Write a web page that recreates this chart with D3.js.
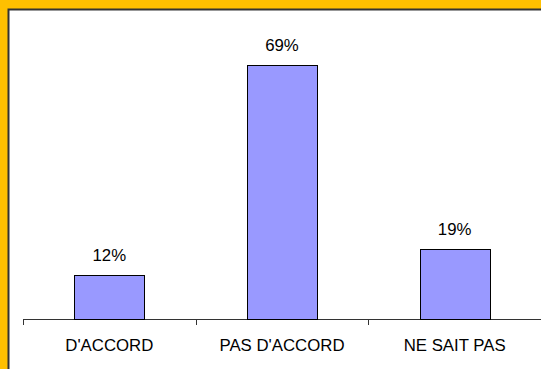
<!DOCTYPE html>
<meta charset="utf-8">
<script src="https://d3js.org/d3.v7.min.js"></script>
<style>
  body { margin: 0; background: #FFC000; }
  svg { display: block; }
</style>
<div id="chart"></div>
<script>
var categories = ["D'ACCORD", "PAS D'ACCORD", "NE SAIT PAS"];
var values = [12, 69, 19];
var valueLabels = ["12%", "69%", "19%"];

var W = 541, H = 369;
var svg = d3.select("#chart").append("svg")
  .attr("width", W).attr("height", H);

// white panel with dark border on top/left
svg.append("rect").attr("x", 0).attr("y", 0).attr("width", W).attr("height", H).attr("fill", "#FFC000");
svg.append("rect").attr("x", 9).attr("y", 10).attr("width", W - 9).attr("height", H - 10).attr("fill", "#fff");
svg.append("path")
  .attr("d", "M8.5," + H + "V9.5H" + W)
  .attr("fill", "none").attr("stroke", "#333").attr("stroke-width", 2);

var x = d3.scaleBand().domain(categories).range([23, 541]).paddingInner(0).paddingOuter(0);
var y = d3.scaleLinear().domain([0, 80]).range([319, 25]);

var barW = 70;
var font = "Liberation Sans, Arial, sans-serif";

// axis
var axis = svg.append("g").attr("font-family", font);
axis.append("line")
  .attr("x1", 23).attr("x2", W).attr("y1", 319.5).attr("y2", 319.5)
  .attr("stroke", "#333").attr("stroke-width", 1);
axis.selectAll("line.tick")
  .data(d3.range(categories.length + 1))
  .enter().append("line")
  .attr("class", "tick")
  .attr("x1", function(i) { return Math.round(23 + i * x.bandwidth()) + 0.5; })
  .attr("x2", function(i) { return Math.round(23 + i * x.bandwidth()) + 0.5; })
  .attr("y1", 319).attr("y2", 325)
  .attr("stroke", "#333");

axis.selectAll("text.cat")
  .data(categories)
  .enter().append("text")
  .attr("class", "cat")
  .attr("x", function(d) { return x(d) + x.bandwidth() / 2; })
  .attr("y", 351)
  .attr("text-anchor", "middle")
  .attr("font-size", 16.8)
  .attr("fill", "#000")
  .text(function(d) { return d; });

// bars
svg.selectAll("rect.bar")
  .data(values)
  .enter().append("rect")
  .attr("class", "bar")
  .attr("x", function(d, i) { return Math.round(x(categories[i]) + x.bandwidth() / 2 - barW / 2) + 0.5; })
  .attr("y", function(d) { return Math.round(y(d)) + 0.5; })
  .attr("width", barW)
  .attr("height", function(d) { return 319 - Math.round(y(d)); })
  .attr("fill", "#9999FF")
  .attr("stroke", "#000")
  .attr("stroke-width", 1);

// value labels
svg.selectAll("text.val")
  .data(values)
  .enter().append("text")
  .attr("class", "val")
  .attr("x", function(d, i) { return x(categories[i]) + x.bandwidth() / 2; })
  .attr("y", function(d) { return y(d) - 14; })
  .attr("text-anchor", "middle")
  .attr("font-family", font)
  .attr("font-size", 16.8)
  .attr("fill", "#000")
  .text(function(d, i) { return valueLabels[i]; });
</script>
